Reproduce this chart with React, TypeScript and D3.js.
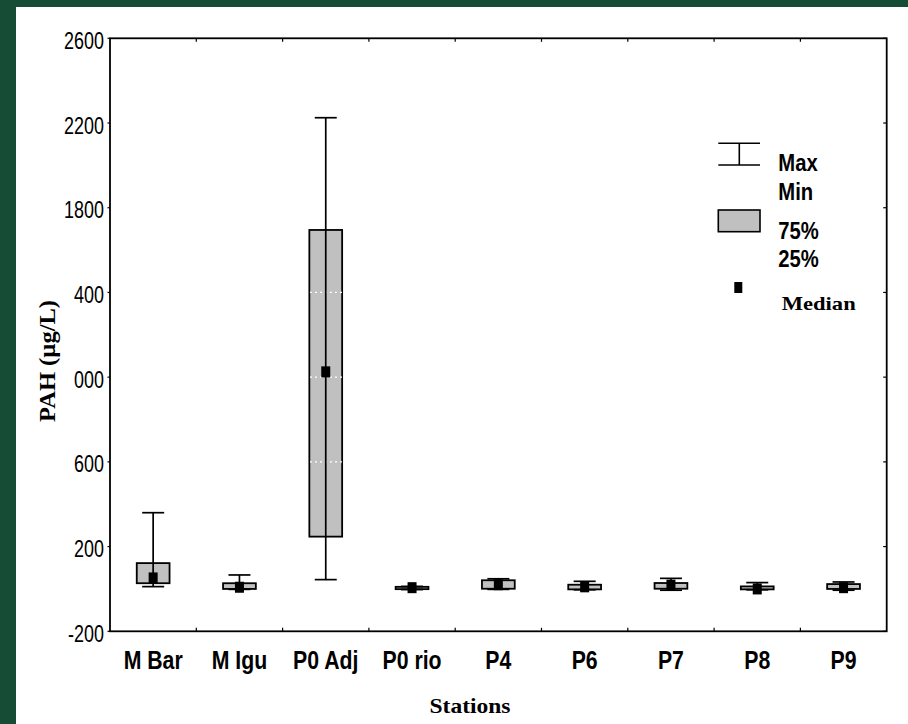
import { scaleBand, scaleLinear } from "d3";

const STATIONS = ["M Bar", "M Igu", "P0 Adj", "P0 rio", "P4", "P6", "P7", "P8", "P9"];
const MINS = [11, -2, 44, -3, -2, -4, -6, -4, -6];
const Q1S = [27, 0, 247, -1, 1, -2, 1, -2, 0];
const MEDIANS = [52, 8, 1025, 6, 20, 10, 18, 0, 6];
const Q3S = [122, 27, 1695, 10, 41, 20, 28, 12, 23];
const MAXS = [360, 66, 2225, 12, 48, 36, 50, 30, 33];

const Y_TICKS = [-200, 200, 600, 1000, 1400, 1800, 2200, 2600];
const Y_TICK_LABELS = ["-200", "200", "600", "000", "400", "1800", "2200", "2600"];
const GRID_VALUES = [200, 600, 1000, 1400, 1800, 2200];

const W = 908;
const H = 724;
const PLOT = { left: 110, right: 886.7, top: 38.3, bottom: 631.3 };
const GREEN = "#164b35";
const BOX_FILL = "#c0c0c0";
const SANS = "'Liberation Sans', Arial, sans-serif";
const SERIF = "'Liberation Serif', 'Times New Roman', serif";

function Narrow({ x, y, size, sx, anchor = "start", bold = false, children }: any) {
  return (
    <text
      transform={`translate(${x},${y}) scale(${sx},1)`}
      fontFamily={SANS}
      fontSize={size}
      fontWeight={bold ? "bold" : "normal"}
      textAnchor={anchor}
      fill="#000"
    >
      {children}
    </text>
  );
}

export default function App() {
  const x = scaleBand<string>().domain(STATIONS).range([PLOT.left, PLOT.right]).padding(0);
  const y = scaleLinear().domain([-200, 2600]).range([PLOT.bottom, PLOT.top]);
  const bw = x.bandwidth();
  const boxW = bw * 0.38;
  const capW = 22;
  const medW = 9;
  const medH = 11;

  const rows = STATIONS.map((s, i) => ({
    s,
    cx: (x(s) ?? 0) + bw / 2,
    min: MINS[i],
    q1: Q1S[i],
    med: MEDIANS[i],
    q3: Q3S[i],
    max: MAXS[i],
  }));

  const bandEdges = STATIONS.slice(1).map((s) => x(s) ?? 0);

  return (
    <svg width={W} height={H} style={{ position: "absolute", left: 0, top: 0 }}>
      <rect x={0} y={0} width={W} height={H} fill={GREEN} />
      <rect x={16} y={7} width={W - 16} height={H - 7} fill="#fff" />

      {/* boxes */}
      {rows.map((r) => (
        <rect
          key={`b-${r.s}`}
          x={r.cx - boxW / 2}
          y={y(r.q3)}
          width={boxW}
          height={Math.max(1, y(r.q1) - y(r.q3))}
          fill={BOX_FILL}
          stroke="#000"
          strokeWidth={1.8}
        />
      ))}

      {/* white dotted grid, only shows over grey boxes */}
      {GRID_VALUES.map((v) => (
        <line
          key={`g-${v}`}
          x1={PLOT.left}
          x2={PLOT.right}
          y1={y(v)}
          y2={y(v)}
          stroke="#fff"
          strokeWidth={1.2}
          strokeDasharray="2,3"
        />
      ))}

      {/* whiskers */}
      {rows.map((r) => (
        <g key={`w-${r.s}`} stroke="#000" strokeWidth={1.7}>
          <line x1={r.cx} x2={r.cx} y1={y(r.max)} y2={y(r.min)} />
          <line x1={r.cx - capW / 2} x2={r.cx + capW / 2} y1={y(r.max)} y2={y(r.max)} />
          <line x1={r.cx - capW / 2} x2={r.cx + capW / 2} y1={y(r.min)} y2={y(r.min)} />
        </g>
      ))}

      {/* medians */}
      {rows.map((r) => (
        <rect
          key={`m-${r.s}`}
          x={r.cx - medW / 2}
          y={y(r.med) - medH / 2}
          width={medW}
          height={medH}
          fill="#000"
        />
      ))}

      {/* frame */}
      <rect
        x={PLOT.left}
        y={PLOT.top}
        width={PLOT.right - PLOT.left}
        height={PLOT.bottom - PLOT.top}
        fill="none"
        stroke="#000"
        strokeWidth={1.8}
      />
      {bandEdges.map((ex) => (
        <g key={`t-${ex}`} stroke="#000" strokeWidth={1.2}>
          <line x1={ex} x2={ex} y1={PLOT.top} y2={PLOT.top + 3.5} />
          <line x1={ex} x2={ex} y1={PLOT.bottom} y2={PLOT.bottom - 3.5} />
        </g>
      ))}
      {Y_TICKS.map((v) => (
        <g key={`yt-${v}`} stroke="#000" strokeWidth={1.2}>
          <line x1={PLOT.left - 2.5} x2={PLOT.left} y1={y(v)} y2={y(v)} />
          <line x1={PLOT.right - 3.5} x2={PLOT.right} y1={y(v)} y2={y(v)} />
        </g>
      ))}

      {/* y tick labels */}
      {Y_TICKS.map((v, i) => (
        <Narrow key={`yl-${v}`} x={104} y={y(v) + 10.5} size={23} sx={0.78} anchor="end">
          {Y_TICK_LABELS[i]}
        </Narrow>
      ))}

      {/* x labels */}
      {rows.map((r) => (
        <Narrow key={`xl-${r.s}`} x={r.cx} y={668.5} size={25} sx={0.85} anchor="middle" bold>
          {r.s}
        </Narrow>
      ))}

      {/* axis titles */}
      <text
        x={470}
        y={712.5}
        fontFamily={SERIF}
        fontWeight="bold"
        fontSize={21}
        textAnchor="middle"
        textLength={81}
        lengthAdjust="spacingAndGlyphs"
      >
        Stations
      </text>
      <text
        transform={`translate(55,361) rotate(-90)`}
        fontFamily={SERIF}
        fontWeight="bold"
        fontSize={24}
        textAnchor="middle"
        textLength={122}
        lengthAdjust="spacingAndGlyphs"
      >
        PAH (µg/L)
      </text>

      {/* legend */}
      <g stroke="#000" strokeWidth={1.6}>
        <line x1={718.3} x2={760} y1={143.3} y2={143.3} />
        <line x1={739.3} x2={739.3} y1={143.3} y2={165} />
        <line x1={718.3} x2={760} y1={165} y2={165} />
        <rect x={718.3} y={210} width={41.7} height={21.7} fill={BOX_FILL} />
      </g>
      <rect x={734.3} y={282} width={medW - 1} height={medH} fill="#000" />
      <Narrow x={778.3} y={170.7} size={23} sx={0.88} bold>Max</Narrow>
      <Narrow x={778.3} y={199.5} size={23} sx={0.88} bold>Min</Narrow>
      <Narrow x={778.3} y={239} size={23} sx={0.88} bold>75%</Narrow>
      <Narrow x={778.3} y={267} size={23} sx={0.88} bold>25%</Narrow>
      <text
        x={781.7}
        y={310}
        fontFamily={SERIF}
        fontWeight="bold"
        fontSize={19}
        textLength={74}
        lengthAdjust="spacingAndGlyphs"
      >
        Median
      </text>
    </svg>
  );
}
